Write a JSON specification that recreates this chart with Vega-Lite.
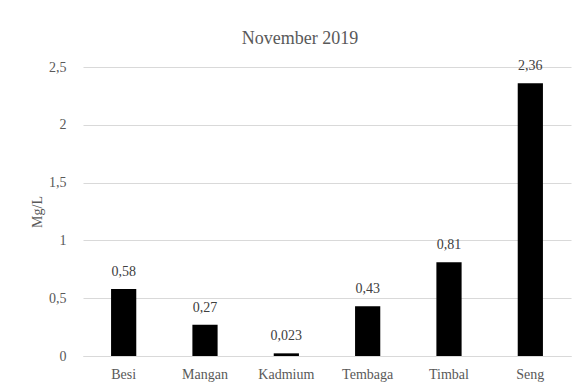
{
  "$schema": "https://vega.github.io/schema/vega-lite/v6.json",
  "autosize": {"type": "none"},
  "width": 488,
  "height": 289,
  "padding": {"left": 83, "top": 67, "right": 6, "bottom": 34},
  "background": "white",
  "title": {"text": "November 2019", "font": "Liberation Serif", "fontSize": 18, "fontWeight": "normal", "color": "#595959", "offset": 11, "dx": -27},
  "data": {"values": [
    {"metal": "Besi", "value": 0.58},
    {"metal": "Mangan", "value": 0.27},
    {"metal": "Kadmium", "value": 0.023},
    {"metal": "Tembaga", "value": 0.43},
    {"metal": "Timbal", "value": 0.81},
    {"metal": "Seng", "value": 2.36}
  ]},
  "encoding": {
    "x": {"field": "metal", "type": "nominal", "sort": null, "title": null,
      "scale": {"paddingInner": 0.69, "paddingOuter": 0.345},
      "axis": {"labelAngle": 0, "ticks": false, "domainColor": "#d9d9d9", "labelPadding": 11, "labelFontSize": 14, "labelColor": "#595959", "labelFont": "Liberation Serif"}},
    "y": {"field": "value", "type": "quantitative", "title": "Mg/L",
      "scale": {"domain": [0, 2.5], "nice": false},
      "axis": {"values": [0, 0.5, 1, 1.5, 2, 2.5], "format": ".1~f", "domain": false, "ticks": false, "gridColor": "#d9d9d9", "labelPadding": 17, "labelFontSize": 14, "labelColor": "#595959", "labelFont": "Liberation Serif", "titleFont": "Liberation Serif", "titleFontSize": 14, "titleFontWeight": "normal", "titleColor": "#595959", "titlePadding": 4}}
  },
  "layer": [
    {"mark": {"type": "bar", "color": "black"}},
    {"mark": {"type": "text", "dy": -10, "font": "Liberation Serif", "fontSize": 14, "color": "#404040", "baseline": "bottom"},
     "encoding": {"text": {"field": "value", "type": "quantitative", "format": "~g"}}}
  ],
  "config": {
    "font": "Liberation Serif",
    "view": {"stroke": null},
    "locale": {"number": {"decimal": ",", "thousands": ".", "grouping": [3], "currency": ["", ""]}}
  }
}
